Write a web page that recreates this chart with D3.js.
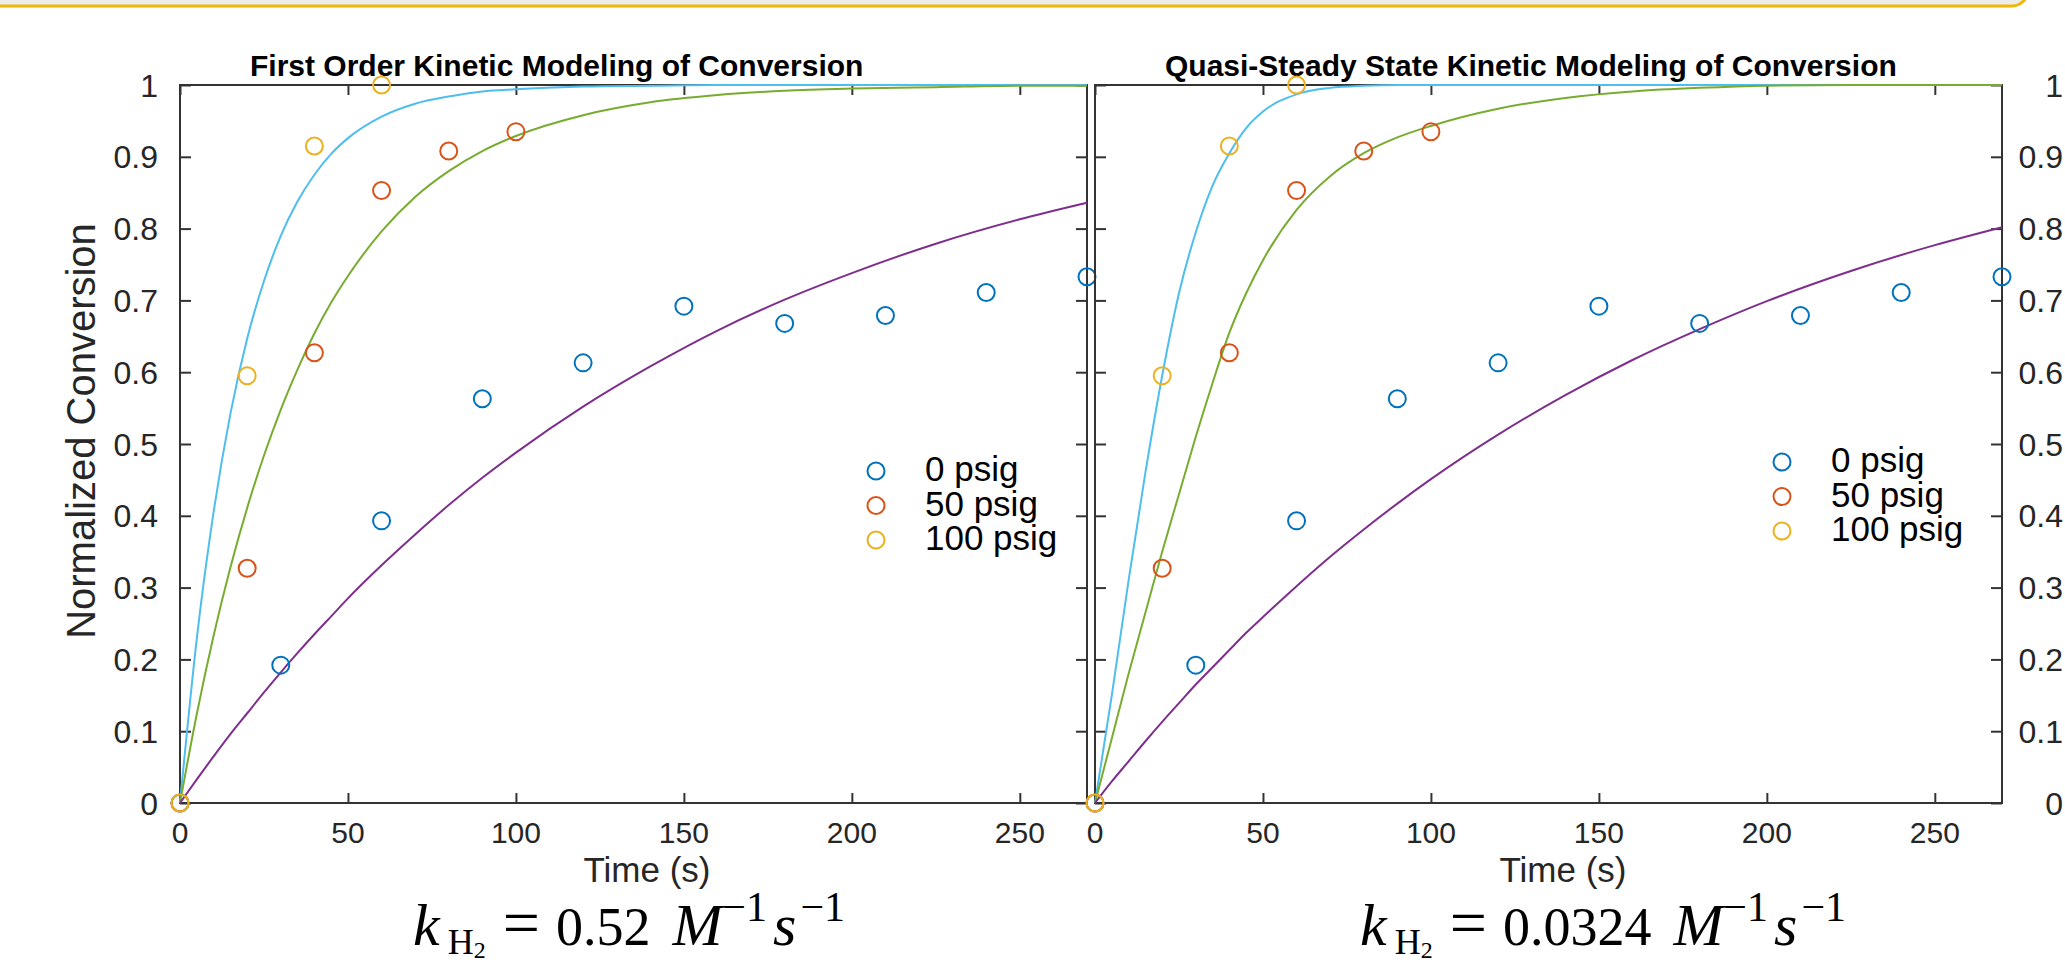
<!DOCTYPE html>
<html>
<head>
<meta charset="utf-8">
<script src="https://cdn.jsdelivr.net/npm/d3@7"></script>
<style>
  body { margin: 0; background: #ffffff; overflow: hidden; }
  text { font-family: Arial, "Liberation Sans", sans-serif; }
</style>
</head>
<body>
<div id="chart"></div>
<script>
const width = 2065;
const height = 963;

// Measured points (same in both panels)
const blueTimes = [0, 30, 60, 90, 120, 150, 180, 210, 240, 270];
const blueValues = [0, 0.192, 0.393, 0.563, 0.613, 0.692, 0.668, 0.679, 0.711, 0.733];
const redTimes = [0, 20, 40, 60, 80, 100];
const redValues = [0, 0.327, 0.627, 0.853, 0.908, 0.935];
const yellowTimes = [0, 20, 40, 60];
const yellowValues = [0, 0.595, 0.915, 1.0];

// Model curves
const fitTimes = [0, 5, 10, 15, 20, 25, 30, 35, 40, 45, 50, 60, 70, 80, 90, 100, 120, 140, 160, 180, 200, 225, 250, 270];
const firstOrderFast = [0, 0.229, 0.405, 0.542, 0.647, 0.727, 0.790, 0.838, 0.875, 0.904, 0.926, 0.956, 0.974, 0.984, 0.991, 0.994, 0.998, 0.999, 1, 1, 1, 1, 1, 1];
const firstOrderMid = [0, 0.124, 0.233, 0.328, 0.411, 0.484, 0.548, 0.604, 0.654, 0.697, 0.734, 0.796, 0.844, 0.880, 0.908, 0.929, 0.958, 0.976, 0.986, 0.992, 0.995, 0.997, 0.999, 0.999];
const firstOrderSlow = [0, 0.033, 0.065, 0.096, 0.125, 0.154, 0.182, 0.209, 0.235, 0.260, 0.285, 0.331, 0.374, 0.415, 0.453, 0.488, 0.552, 0.608, 0.658, 0.701, 0.738, 0.779, 0.813, 0.836];
const quasiFast = [0, 0.15, 0.31, 0.46, 0.595, 0.71, 0.795, 0.86, 0.905, 0.94, 0.963, 0.987, 0.996, 0.999, 1, 1, 1, 1, 1, 1, 1, 1, 1, 1];
const quasiMid = [0, 0.09, 0.18, 0.265, 0.35, 0.43, 0.51, 0.585, 0.655, 0.71, 0.756, 0.826, 0.873, 0.905, 0.927, 0.943, 0.967, 0.982, 0.991, 0.996, 0.999, 1, 1, 1];
const quasiSlow = [0, 0.030, 0.058, 0.086, 0.113, 0.139, 0.165, 0.189, 0.213, 0.237, 0.259, 0.302, 0.343, 0.381, 0.417, 0.451, 0.513, 0.568, 0.617, 0.660, 0.699, 0.741, 0.777, 0.802];

const xTicks = [0, 50, 100, 150, 200, 250];
const yTicks = [0, 0.1, 0.2, 0.3, 0.4, 0.5, 0.6, 0.7, 0.8, 0.9, 1];
const legendLabels = ["0 psig", "50 psig", "100 psig"];
const markerColors = ["#0072BD", "#D95319", "#EDB120"];
const fitColors = ["#4DBEEE", "#77AC30", "#7E2F8E"];

const panels = [
    {
        left: 180, title: "First Order Kinetic Modeling of Conversion", titleX: 250,
        fits: [firstOrderFast, firstOrderMid, firstOrderSlow],
        legendX: 876, legendY: 471, timeX: 647, formulaX: 413, rate: "0.52",
        leftLabels: true
    },
    {
        left: 1095, title: "Quasi-Steady State Kinetic Modeling of Conversion", titleX: 1165,
        fits: [quasiFast, quasiMid, quasiSlow],
        legendX: 1782, legendY: 462, timeX: 1563, formulaX: 1360, rate: "0.0324",
        leftLabels: false
    }
];

const plotWidth = 907;
const plotTop = 85;
const plotBottom = 803;

const svg = d3.select("#chart")
    .append("svg")
    .attr("width", width)
    .attr("height", height);

// slide banner at the top
svg.append("rect")
    .attr("x", -30)
    .attr("y", -40)
    .attr("width", 2058)
    .attr("height", 46)
    .attr("rx", 16)
    .attr("fill", "#ececec")
    .attr("stroke", "#f2b705")
    .attr("stroke-width", 3);

const markerSets = [
    [blueTimes, blueValues],
    [redTimes, redValues],
    [yellowTimes, yellowValues]
];

const drawPanel = (p) => {
    const xScale = d3.scaleLinear().domain([0, 270]).range([p.left, p.left + plotWidth]);
    const yScale = d3.scaleLinear().domain([0, 1]).range([plotBottom, plotTop]);

    // Title
    svg.append("text")
        .attr("x", p.titleX)
        .attr("y", 76)
        .style("font-size", "30px")
        .style("font-weight", "bold")
        .attr("fill", "#000")
        .text(p.title);

    // Ticks pointing inward on all four sides
    const g = svg.append("g");
    g.append("g")
        .attr("transform", `translate(0,${plotBottom})`)
        .call(d3.axisBottom(xScale).tickValues(xTicks).tickSizeInner(-10).tickSizeOuter(0).tickFormat(""));
    g.append("g")
        .attr("transform", `translate(0,${plotTop})`)
        .call(d3.axisTop(xScale).tickValues(xTicks).tickSizeInner(-10).tickSizeOuter(0).tickFormat(""));
    g.append("g")
        .attr("transform", `translate(${p.left},0)`)
        .call(d3.axisLeft(yScale).tickValues(yTicks).tickSizeInner(-11).tickSizeOuter(0).tickFormat(""));
    g.append("g")
        .attr("transform", `translate(${p.left + plotWidth},0)`)
        .call(d3.axisRight(yScale).tickValues(yTicks).tickSizeInner(-11).tickSizeOuter(0).tickFormat(""));
    g.selectAll(".domain").remove();
    g.selectAll("line").attr("stroke", "#333").attr("stroke-width", 2);

    // Box
    svg.append("rect")
        .attr("x", p.left)
        .attr("y", plotTop)
        .attr("width", plotWidth)
        .attr("height", plotBottom - plotTop)
        .attr("fill", "none")
        .attr("stroke", "#333")
        .attr("stroke-width", 2);

    // X tick labels
    svg.append("g").selectAll("text")
        .data(xTicks)
        .join("text")
        .attr("x", d => xScale(d))
        .attr("y", 843)
        .attr("text-anchor", "middle")
        .style("font-size", "30px")
        .attr("fill", "#262626")
        .text(d => d);

    svg.append("text")
        .attr("x", p.timeX)
        .attr("y", 882)
        .attr("text-anchor", "middle")
        .style("font-size", "35px")
        .attr("fill", "#262626")
        .text("Time (s)");

    // Y tick labels
    svg.append("g").selectAll("text")
        .data(yTicks)
        .join("text")
        .attr("x", p.leftLabels ? 158 : 2063)
        .attr("y", d => yScale(d))
        .attr("dy", "0.36em")
        .attr("text-anchor", "end")
        .style("font-size", "32px")
        .attr("fill", "#262626")
        .text(d => d3.format("~g")(d));

    // Fitted curves
    const line = d3.line()
        .x((d, i) => xScale(fitTimes[i]))
        .y(d => yScale(d))
        .curve(d3.curveMonotoneX);
    p.fits.forEach((fit, i) => {
        svg.append("path")
            .datum(fit)
            .attr("d", line)
            .attr("fill", "none")
            .attr("stroke", fitColors[i])
            .attr("stroke-width", 2);
    });

    // Measured points
    markerSets.forEach(([times, values], i) => {
        svg.append("g").selectAll("circle")
            .data(values)
            .join("circle")
            .attr("cx", (d, j) => xScale(times[j]))
            .attr("cy", d => yScale(d))
            .attr("r", 8.5)
            .attr("fill", "none")
            .attr("stroke", markerColors[i])
            .attr("stroke-width", 2);
    });

    // Legend
    const legend = svg.append("g")
        .attr("transform", `translate(${p.legendX},${p.legendY})`);
    legendLabels.forEach((label, i) => {
        legend.append("circle")
            .attr("cx", 0)
            .attr("cy", i * 34.5)
            .attr("r", 8.5)
            .attr("fill", "none")
            .attr("stroke", markerColors[i])
            .attr("stroke-width", 2);
        legend.append("text")
            .attr("x", 49)
            .attr("y", i * 34.5 + 10)
            .style("font-size", "35px")
            .attr("fill", "#000")
            .text(label);
    });

    // Rate constant below the panel
    const f = svg.append("text")
        .attr("x", p.formulaX)
        .attr("y", 945)
        .style("font-family", "'Liberation Serif', 'DejaVu Serif', serif")
        .style("font-size", "54px")
        .attr("fill", "#000");
    f.append("tspan").style("font-style", "italic").style("font-size", "60px").text("k");
    f.append("tspan").attr("dx", 8).attr("dy", 9).style("font-size", "36px").text("H");
    f.append("tspan").attr("dy", 4).style("font-size", "24px").text("2");
    f.append("tspan").attr("dx", 17).attr("dy", -13).style("font-size", "66px").text("=");
    f.append("tspan").attr("dx", 16).text(p.rate);
    f.append("tspan").attr("dx", 22).style("font-style", "italic").style("font-size", "60px").text("M");
    f.append("tspan").attr("dy", -24).style("font-size", "42px").text("\u22121");
    f.append("tspan").attr("dx", 6).attr("dy", 24).style("font-style", "italic").style("font-size", "60px").text("s");
    f.append("tspan").attr("dx", 4).attr("dy", -24).style("font-size", "42px").text("\u22121");
};

panels.forEach(drawPanel);

// Y axis label of the left panel
svg.append("text")
    .attr("transform", "translate(95,431) rotate(-90)")
    .attr("text-anchor", "middle")
    .style("font-size", "40px")
    .attr("fill", "#262626")
    .text("Normalized Conversion");
</script>
</body>
</html>
